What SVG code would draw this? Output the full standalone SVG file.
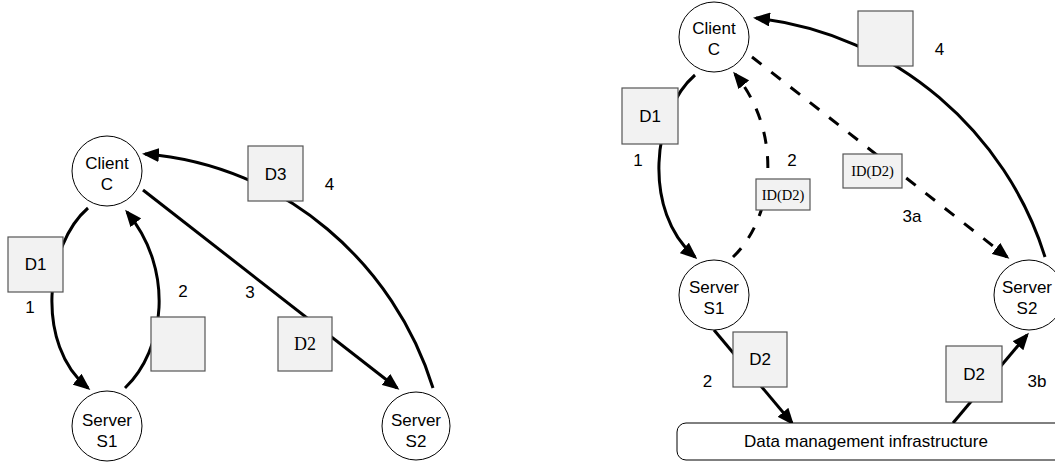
<svg xmlns="http://www.w3.org/2000/svg" width="1055" height="464" viewBox="0 0 1055 464">
<style>
.n{fill:#fff;stroke:#000;stroke-width:1}
.b{fill:#f2f2f2;stroke:#555;stroke-width:1.2}
.t{font-family:"Liberation Sans",Arial,sans-serif;font-size:17px;fill:#000;text-anchor:middle}
.s{font-family:"Liberation Serif","Times New Roman",serif;fill:#000;text-anchor:middle}
.e{fill:none;stroke:#000;stroke-width:3}
.d{fill:none;stroke:#000;stroke-width:3;stroke-dasharray:12 12.5}
</style>
<defs>
<marker id="ah" markerWidth="17" markerHeight="14" refX="14" refY="7" orient="auto" markerUnits="userSpaceOnUse"><path d="M0,0 L17,7 L0,14 Z" fill="#000"/></marker>
</defs>
<g id="connectors">
<path class="e" d="M88 208 C45 245,35 345,88 388" marker-end="url(#ah)"/>
<path class="e" d="M125 388 C165 350,175 270,127 212" marker-end="url(#ah)"/>
<path class="e" d="M143 190 L397 388" marker-end="url(#ah)"/>
<path class="e" d="M433 388 C395 265,285 165,145 154" marker-end="url(#ah)"/>
<path class="e" d="M695 75 C652 112,642 212,695 257" marker-end="url(#ah)"/>
<path class="d" d="M733 257 C775 217,783 132,735 74" marker-end="url(#ah)"/>
<path class="d" d="M752 57 L1007 257" marker-end="url(#ah)"/>
<path class="e" d="M1045 257 C1007 134,897 34,756 18" marker-end="url(#ah)"/>
<path class="e" d="M714 330 L792 423" marker-end="url(#ah)"/>
<path class="e" d="M953 423 L1027 335" marker-end="url(#ah)"/>
</g>
<g id="clientC-left"><circle class="n" cx="107" cy="171" r="35"/><text class="t" x="107" y="169">Client</text><text class="t" x="107" y="190">C</text></g>
<g id="serverS1-left"><circle class="n" cx="107" cy="426" r="35"/><text class="t" x="107" y="426">Server</text><text class="t" x="107" y="447">S1</text></g>
<g id="serverS2-left"><circle class="n" cx="416" cy="426" r="34"/><text class="t" x="416" y="426">Server</text><text class="t" x="416" y="447">S2</text></g>
<g id="d1-left"><rect class="b" x="8" y="237" width="55" height="55"/><text class="t" x="35.5" y="270">D1</text></g>
<g id="empty-left"><rect class="b" x="151" y="317" width="54" height="54"/></g>
<g id="d2-left"><rect class="b" x="278" y="317" width="54" height="54"/><text class="s" x="305" y="350" font-size="18">D2</text></g>
<g id="d3-left"><rect class="b" x="248" y="146" width="55" height="55"/><text class="t" x="275.5" y="180">D3</text></g>
<g id="labels-left">
<text class="t" x="30" y="313">1</text>
<text class="t" x="183" y="297">2</text>
<text class="t" x="250" y="298">3</text>
<text class="t" x="329.5" y="190">4</text>
</g>
<g id="infra"><rect class="n" x="677" y="423" width="390" height="37" rx="9"/><text class="t" x="866" y="447">Data management infrastructure</text></g>
<g id="clientC-right"><circle class="n" cx="714" cy="37" r="35"/><text class="t" x="714" y="34">Client</text><text class="t" x="714" y="55">C</text></g>
<g id="serverS1-right"><circle class="n" cx="714" cy="295" r="35"/><text class="t" x="714" y="293">Server</text><text class="t" x="714" y="314">S1</text></g>
<g id="serverS2-right"><circle class="n" cx="1029" cy="295" r="35"/><text class="t" x="1027" y="293">Server</text><text class="t" x="1027" y="314">S2</text></g>
<g id="d1-right"><rect class="b" x="622" y="88" width="56" height="56"/><text class="t" x="650" y="122">D1</text></g>
<g id="idd2-a"><rect class="b" x="756" y="179" width="54" height="31"/><text class="s" x="783" y="200" font-size="14.5">ID(D2)</text></g>
<g id="idd2-b"><rect class="b" x="843" y="154" width="59" height="34"/><text class="s" x="872.5" y="176" font-size="14.5">ID(D2)</text></g>
<g id="empty-right"><rect class="b" x="858" y="11" width="55" height="55"/></g>
<g id="d2-right-a"><rect class="b" x="733" y="332" width="54" height="55"/><text class="t" x="760" y="365">D2</text></g>
<g id="d2-right-b"><rect class="b" x="946" y="346" width="56" height="56"/><text class="t" x="974" y="380">D2</text></g>
<g id="labels-right">
<text class="t" x="638" y="166">1</text>
<text class="t" x="792" y="166">2</text>
<text class="t" x="939.5" y="55">4</text>
<text class="t" x="912" y="222">3a</text>
<text class="t" x="707.5" y="387">2</text>
<text class="t" x="1037" y="387">3b</text>
</g>
</svg>
